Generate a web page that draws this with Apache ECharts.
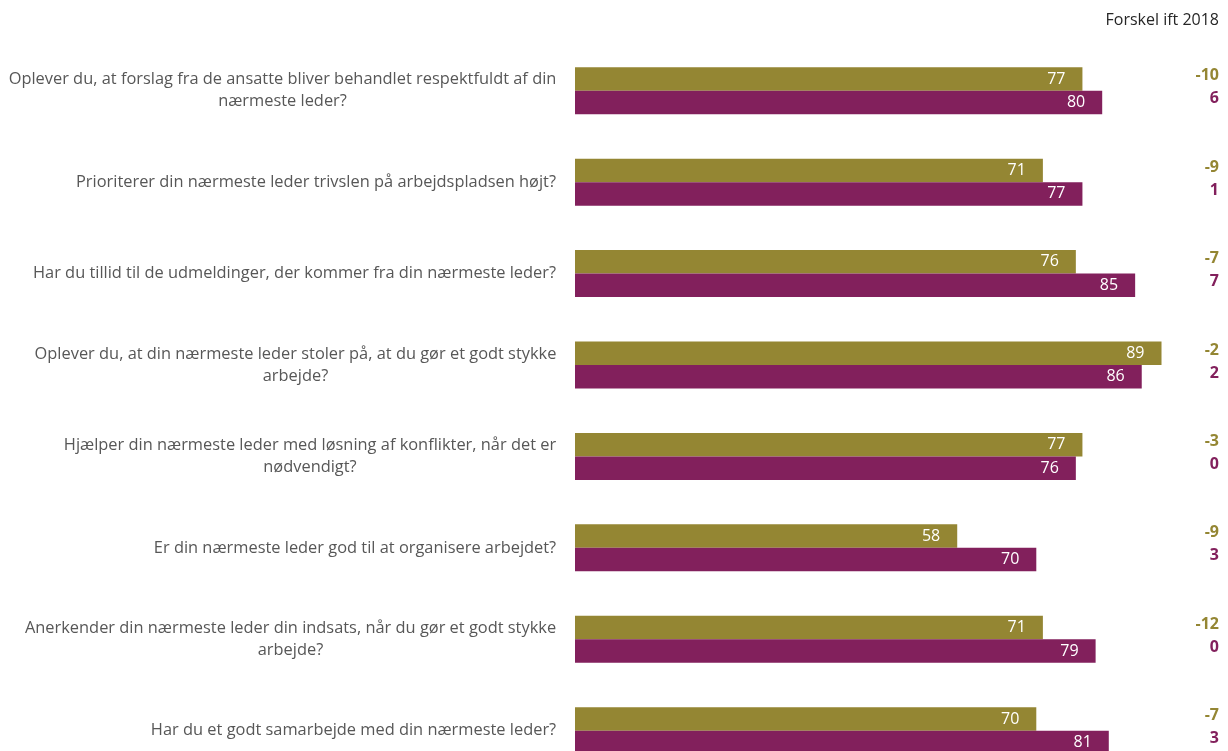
<!DOCTYPE html>
<html>
<head>
<meta charset="utf-8">
<script src="https://cdn.jsdelivr.net/npm/echarts@6/dist/echarts.min.js"></script>
<style>
html,body{margin:0;padding:0;background:#fff;overflow:hidden;width:1228px;height:751px;}
#chart{width:1240px;height:790px;}
</style>
</head>
<body>
<div id="chart"></div>
<script>
var categories = [
  "Oplever du, at forslag fra de ansatte bliver behandlet respektfuldt af din\nnærmeste leder?",
  "Prioriterer din nærmeste leder trivslen på arbejdspladsen højt?",
  "Har du tillid til de udmeldinger, der kommer fra din nærmeste leder?",
  "Oplever du, at din nærmeste leder stoler på, at du gør et godt stykke\narbejde?",
  "Hjælper din nærmeste leder med løsning af konflikter, når det er\nnødvendigt?",
  "Er din nærmeste leder god til at organisere arbejdet?",
  "Anerkender din nærmeste leder din indsats, når du gør et godt stykke\narbejde?",
  "Har du et godt samarbejde med din nærmeste leder?"
];
var valuesOlive = [77, 71, 76, 89, 77, 58, 71, 70];
var valuesPurple = [80, 77, 85, 86, 76, 70, 79, 81];
var diffOlive = [-10, -9, -7, -2, -3, -9, -12, -7];
var diffPurple = [6, 1, 7, 2, 0, 3, 0, 3];
var diffTitle = "Forskel ift 2018";

var OLIVE = "#948633";
var PURPLE = "#82205C";
var FONT = '"Open Sans", "Noto Sans", sans-serif';

// per-label rich styles so that second lines are centred under the first
var ctx = document.createElement("canvas").getContext("2d");
ctx.font = '16.4px "Open Sans"';
var leftRich = {};
categories.forEach(function (c, i) {
  var lines = c.split("\n");
  var w = Math.max.apply(null, lines.map(function (l) { return ctx.measureText(l).width; }));
  leftRich["r" + i] = {
    width: Math.ceil(w) + 1, align: "center", fontSize: 16.4, lineHeight: 22,
    color: "#575757", fontFamily: FONT
  };
});

var chart = echarts.init(document.getElementById("chart"));
chart.setOption({
  animation: false,
  backgroundColor: "#ffffff",
  title: {
    text: diffTitle, right: 16, top: 7,
    textStyle: { fontSize: 16, fontWeight: "normal", color: "#262626", fontFamily: FONT }
  },
  grid: { left: 575, top: 45, width: 659, height: 731.4, containLabel: false },
  xAxis: { type: "value", min: 0, max: 100, show: false },
  yAxis: [
    {
      type: "category", data: categories, inverse: true,
      axisLine: { show: false }, axisTick: { show: false }, splitLine: { show: false },
      axisLabel: {
        margin: 18, align: "right",
        formatter: function (v, i) {
          return v.split("\n").map(function (l) { return "{r" + i + "|" + l + "}"; }).join("\n");
        },
        rich: leftRich
      }
    },
    {
      type: "category", data: categories, inverse: true, position: "right", offset: -15,
      axisLine: { show: false }, axisTick: { show: false }, splitLine: { show: false },
      axisLabel: {
        margin: 0, align: "right", padding: [0, 0, 7, 0],
        formatter: function (v, i) {
          return "{a|" + diffOlive[i] + "}\n{b|" + diffPurple[i] + "}";
        },
        rich: {
          a: { color: OLIVE, fontWeight: "bold", fontSize: 16, lineHeight: 23, fontFamily: FONT, align: "right" },
          b: { color: PURPLE, fontWeight: "bold", fontSize: 16, lineHeight: 23, fontFamily: FONT, align: "right" }
        }
      }
    }
  ],
  series: [
    {
      type: "bar", name: "A", data: valuesOlive, yAxisIndex: 0,
      barGap: "0%", barCategoryGap: "48.6%",
      itemStyle: { color: OLIVE },
      label: { show: true, position: "insideRight", distance: 17, color: "#fff", fontSize: 16, fontFamily: FONT }
    },
    {
      type: "bar", name: "B", data: valuesPurple, yAxisIndex: 0,
      barGap: "0%", barCategoryGap: "48.6%",
      itemStyle: { color: PURPLE },
      label: { show: true, position: "insideRight", distance: 17, color: "#fff", fontSize: 16, fontFamily: FONT }
    }
  ]
});
</script>
</body>
</html>
